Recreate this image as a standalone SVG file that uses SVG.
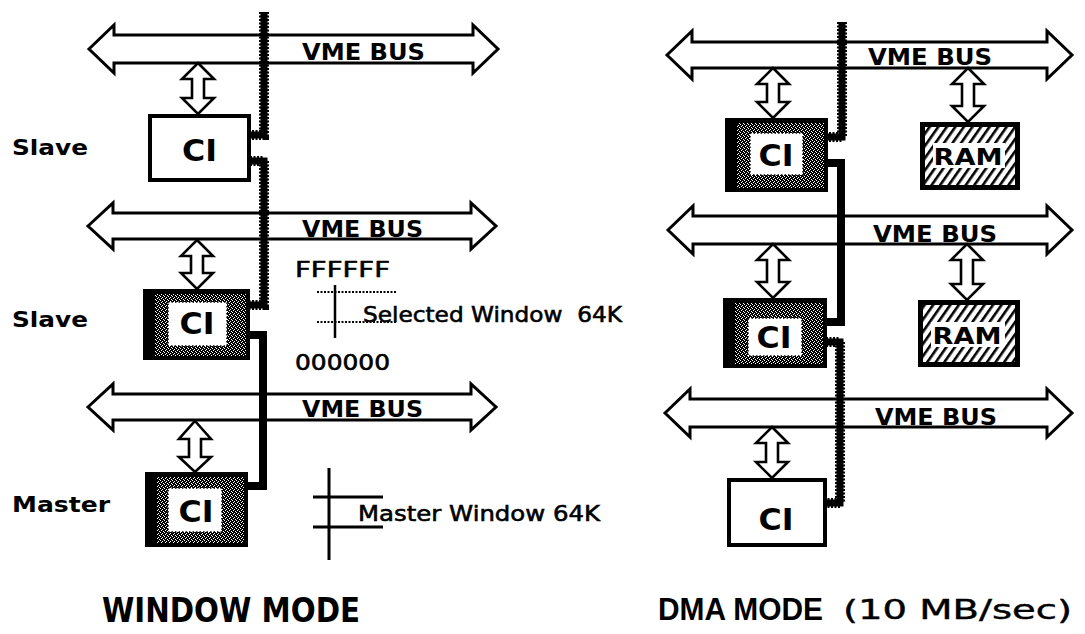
<svg xmlns="http://www.w3.org/2000/svg" width="1085" height="634" viewBox="0 0 1085 634">
<defs>
<pattern id="stip" width="4" height="4" patternUnits="userSpaceOnUse"><rect width="4" height="4" fill="#000"/><rect x="0" y="0" width="1" height="1" fill="#fff"/><rect x="2" y="1" width="1" height="1" fill="#fff"/><rect x="1" y="2" width="1" height="1" fill="#fff"/><rect x="3" y="3" width="1" height="1" fill="#fff"/></pattern>
<pattern id="hatch" width="7" height="10" patternUnits="userSpaceOnUse" patternTransform="rotate(35)"><rect width="7" height="10" fill="#fff"/><rect width="2.6" height="10" fill="#000"/></pattern>
<style>
.bus{fill:#fff;stroke:#000;stroke-width:3;stroke-linejoin:miter}
.dar{fill:#fff;stroke:#000;stroke-width:2.6;stroke-linejoin:miter}
.box{fill:#fff;stroke:#000;stroke-width:4}
.ram{fill:url(#hatch);stroke:#000;stroke-width:5}
.outer{fill:#000}
.stip{fill:url(#stip)}
.inner{fill:#fff;stroke:#000;stroke-width:1.5;stroke-dasharray:1.5 2}
.win{fill:#fff}
.chainA{fill:none;stroke:#000;stroke-width:7}
.chainB{fill:none;stroke:#000;stroke-width:10;stroke-dasharray:2 1.5}
.solid{fill:none;stroke:#000;stroke-width:8;stroke-linejoin:miter}
.line{fill:none;stroke:#000;stroke-width:3}
.dot{fill:none;stroke:#000;stroke-width:2;stroke-dasharray:2 1.5}
.t{font-family:"DejaVu Sans","Liberation Sans",sans-serif;fill:#000}
.vb{font-size:23px;font-weight:bold}
.ci{font-size:31px;font-weight:bold;text-anchor:middle}
.ramt{font-size:23px;font-weight:bold;text-anchor:middle}
.lbl{font-size:21px;font-weight:bold}
.note{font-size:22px;stroke:#000;stroke-width:0.6}
.title{font-size:33px;font-weight:bold}
</style>
</defs>
<rect width="1085" height="634" fill="#fff"/>

<!-- buses -->
<g id="bus-w1"><path class="bus" d="M89,49 L114,25 L114,35 L473,35 L473,25 L498,49 L473,73 L473,63 L114,63 L114,73 Z"/><text class="t vb" x="302" y="60" textLength="123" lengthAdjust="spacingAndGlyphs">VME BUS</text></g>
<g id="bus-w2"><path class="bus" d="M88,226 L113,203 L113,213 L471,213 L471,203 L496,226 L471,249 L471,239 L113,239 L113,249 Z"/><text class="t vb" x="302" y="237" textLength="121" lengthAdjust="spacingAndGlyphs">VME BUS</text></g>
<g id="bus-w3"><path class="bus" d="M88,407 L113,384 L113,394 L471,394 L471,384 L496,407 L471,430 L471,420 L113,420 L113,430 Z"/><text class="t vb" x="302" y="417" textLength="121" lengthAdjust="spacingAndGlyphs">VME BUS</text></g>
<g id="bus-d1"><path class="bus" d="M667,55 L692,31 L692,42 L1047,42 L1047,31 L1072,55 L1047,79 L1047,68 L692,68 L692,79 Z"/><text class="t vb" x="868" y="65" textLength="124" lengthAdjust="spacingAndGlyphs">VME BUS</text></g>
<g id="bus-d2"><path class="bus" d="M668,230 L693,206 L693,216 L1047,216 L1047,206 L1072,230 L1047,254 L1047,244 L693,244 L693,254 Z"/><text class="t vb" x="873" y="242" textLength="124" lengthAdjust="spacingAndGlyphs">VME BUS</text></g>
<g id="bus-d3"><path class="bus" d="M665,413 L690,389 L690,399 L1047,399 L1047,389 L1072,413 L1047,437 L1047,427 L690,427 L690,437 Z"/><text class="t vb" x="875" y="425" textLength="122" lengthAdjust="spacingAndGlyphs">VME BUS</text></g>

<!-- bus-to-node double arrows -->
<g id="links">
<polygon class="dar" points="198,63 214,79 204,79 204,98 214,98 198,114 182,98 192,98 192,79 182,79"/>
<polygon class="dar" points="197,240 213,256 203,256 203,273 213,273 197,289 181,273 191,273 191,256 181,256"/>
<polygon class="dar" points="195,421 211,439 201,439 201,457 211,457 195,472 179,457 189,457 189,439 179,439"/>
<polygon class="dar" points="773,68 789,84 779,84 779,102 789,102 773,118 757,102 767,102 767,84 757,84"/>
<polygon class="dar" points="968,68 984,84 974,84 974,106 984,106 968,122 952,106 962,106 962,84 952,84"/>
<polygon class="dar" points="773,244 789,260 779,260 779,282 789,282 773,298 757,282 767,282 767,260 757,260"/>
<polygon class="dar" points="967,244 983,260 973,260 973,284 983,284 967,300 951,284 961,284 961,260 951,260"/>
<polygon class="dar" points="772,427 788,443 778,443 778,462 788,462 772,478 756,462 766,462 766,443 756,443"/>
</g>

<!-- window mode nodes -->
<g id="w-ci-slave1"><rect class="box" x="150" y="116" width="99" height="64"/><text class="t ci" x="199.5" y="161" textLength="35" lengthAdjust="spacingAndGlyphs">CI</text></g>
<g id="w-ci-slave2"><rect class="outer" x="143" y="289" width="107" height="71"/><rect class="stip" x="155" y="294" width="91" height="62"/><rect class="inner" x="168" y="302" width="59" height="44"/><text class="t ci" x="197" y="334" textLength="35" lengthAdjust="spacingAndGlyphs">CI</text></g>
<g id="w-ci-master"><rect class="outer" x="145" y="472" width="103" height="75"/><rect class="stip" x="157" y="477" width="87" height="66"/><rect class="inner" x="168" y="488" width="54" height="44"/><text class="t ci" x="196" y="522" textLength="35" lengthAdjust="spacingAndGlyphs">CI</text></g>

<!-- dma mode nodes -->
<g id="d-ci-1"><rect class="outer" x="725" y="118" width="103" height="74"/><rect class="stip" x="737" y="123" width="87" height="65"/><rect class="inner" x="750" y="133" width="53" height="42"/><text class="t ci" x="776" y="166" textLength="35" lengthAdjust="spacingAndGlyphs">CI</text></g>
<g id="d-ci-2"><rect class="outer" x="723" y="298" width="104" height="70"/><rect class="stip" x="735" y="303" width="88" height="61"/><rect class="inner" x="748" y="318" width="54" height="38"/><text class="t ci" x="774" y="348" textLength="35" lengthAdjust="spacingAndGlyphs">CI</text></g>
<g id="d-ci-3"><rect class="box" x="729" y="480" width="96" height="65"/><text class="t ci" x="776" y="530" textLength="35" lengthAdjust="spacingAndGlyphs">CI</text></g>
<g id="d-ram-1"><rect class="ram" x="922.5" y="124.5" width="95" height="63"/><rect class="win" x="933" y="143" width="72" height="25"/><text class="t ramt" x="968" y="165" textLength="69" lengthAdjust="spacingAndGlyphs">RAM</text></g>
<g id="d-ram-2"><rect class="ram" x="920.5" y="302.5" width="97" height="62"/><rect class="win" x="931" y="322" width="74" height="25"/><text class="t ramt" x="967" y="344" textLength="69" lengthAdjust="spacingAndGlyphs">RAM</text></g>

<!-- connectors -->
<g id="connectors">
<path class="chainA" d="M264,12 V135 H250"/><path class="chainB" d="M264,12 V135 H250"/>
<path class="chainA" d="M250,161 H264 V305 H249"/><path class="chainB" d="M250,161 H264 V305 H249"/>
<path class="solid" d="M248,335 H263 V486 H247"/>
<path class="chainA" d="M842,22 V137 H828"/><path class="chainB" d="M842,22 V137 H828"/>
<path class="solid" d="M827,163 H841 V322 H826"/>
<path class="chainA" d="M826,342 H840 V503 H826"/><path class="chainB" d="M826,342 H840 V503 H826"/>
</g>

<!-- labels -->
<text class="t lbl" x="12" y="155" textLength="76" lengthAdjust="spacingAndGlyphs">Slave</text>
<text class="t lbl" x="12" y="327" textLength="76" lengthAdjust="spacingAndGlyphs">Slave</text>
<text class="t lbl" x="12" y="512" textLength="98" lengthAdjust="spacingAndGlyphs">Master</text>

<!-- address window annotations -->
<g id="selected-window">
<text class="t note" x="295" y="277" textLength="95" lengthAdjust="spacingAndGlyphs">FFFFFF</text>
<path class="line" d="M335,285 V338" style="stroke-width:2.5"/>
<path class="dot" d="M317,292 H397 M317,322 H397"/>
<text class="t note" x="363" y="322" xml:space="preserve" textLength="259" lengthAdjust="spacingAndGlyphs">Selected Window  64K</text>
<text class="t note" x="295" y="370" textLength="95" lengthAdjust="spacingAndGlyphs">000000</text>
</g>
<g id="master-window">
<path class="line" d="M329,468 V560 M313,497 H383 M313,527 H383"/>
<text class="t note" x="358" y="521" textLength="242" lengthAdjust="spacingAndGlyphs">Master Window 64K</text>
</g>

<!-- titles -->
<text class="t title" x="102" y="622" textLength="258" lengthAdjust="spacingAndGlyphs">WINDOW MODE</text>
<text class="t" x="658" y="620" style="font-family:'Liberation Sans',sans-serif;font-size:31px;font-weight:bold" textLength="165" lengthAdjust="spacingAndGlyphs">DMA MODE</text>
<text class="t" x="843" y="619" style="font-size:26px;stroke:#000;stroke-width:0.4" textLength="229" lengthAdjust="spacingAndGlyphs">(10 MB/sec)</text>
</svg>
